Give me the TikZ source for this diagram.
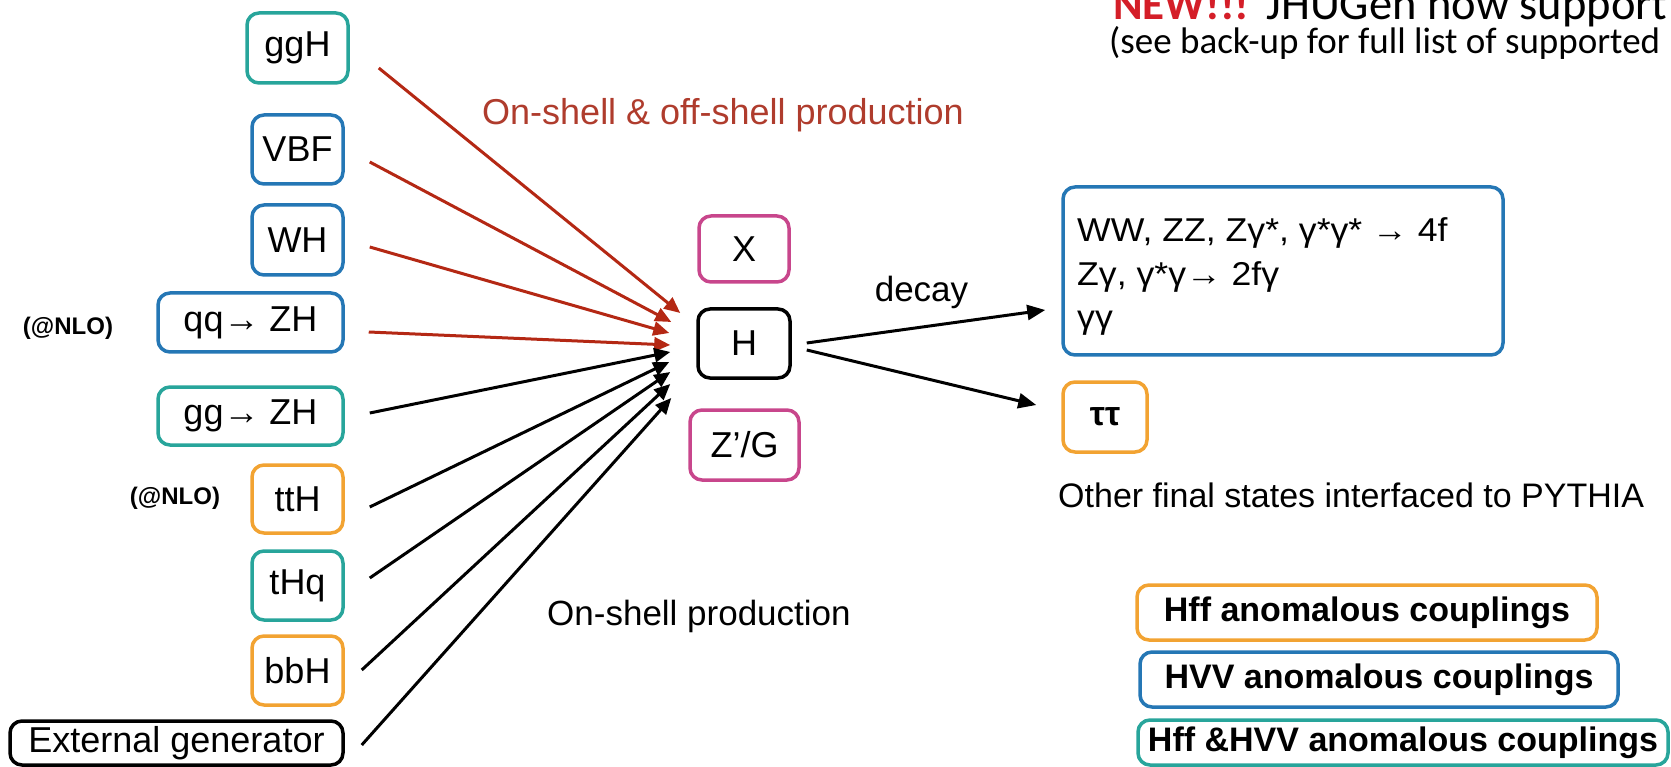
\documentclass[tikz,border=0pt]{standalone}
\usepackage{fontspec}
\setmainfont{Liberation Sans}
\newfontfamily\widesans[FakeStretch=1.08]{Liberation Sans}
\newfontfamily\hdrfont{Carlito}
\usetikzlibrary{arrows.meta,calc}
\definecolor{cteal}{RGB}{40,165,155}
\definecolor{cblue}{RGB}{37,119,181}
\definecolor{corange}{RGB}{242,163,50}
\definecolor{cmag}{RGB}{200,70,140}
\definecolor{cdred}{RGB}{180,40,20}
\definecolor{ctxtred}{RGB}{175,60,45}
\definecolor{cnew}{RGB}{212,30,40}

\begin{document}
\begin{tikzpicture}[x=1pt,y=-1pt,
  bx/.style={draw, line width=3.5pt, rounded corners=12pt, inner sep=0pt,
    font=\fontsize{36}{40}\selectfont},
  tealbox/.style={bx, draw=cteal},
  bluebox/.style={bx, draw=cblue},
  orangebox/.style={bx, draw=corange},
  magbox/.style={bx, draw=cmag},
  blackbox/.style={bx, draw=black},
  lbl/.style={inner sep=0pt, font=\fontsize{36}{40}\selectfont},
  nlo/.style={inner sep=0pt, font=\bfseries\fontsize{24}{28}\selectfont},
  legendbox/.style={bx, font=\bfseries\fontsize{34}{38}\selectfont},
  prod/.style={line width=3pt, -{Triangle[length=16pt,width=14pt]}},
  onoff/.style={prod, draw=cdred},
  onshell/.style={prod, draw=black},
  decayarr/.style={line width=3pt, -{Triangle[length=18pt,width=15pt]}}
]
\useasboundingbox (0,0) rectangle (1671,767);

% production channels
\node[tealbox, minimum width=101pt, minimum height=70pt] (ggH) at (297.5,48) {ggH};
\node[bluebox, minimum width=91pt, minimum height=69pt] (VBF) at (297.5,149.5) {VBF};
\node[bluebox, minimum width=91pt, minimum height=70pt] (WH) at (297.5,240) {WH};
\node[bluebox, minimum width=185pt, minimum height=59pt] (qqZH) at (250.5,322.5) {qq→ ZH};
\node[tealbox, minimum width=185pt, minimum height=58pt] (ggZH) at (250.5,416) {gg→ ZH};
\node[orangebox, minimum width=91pt, minimum height=68pt] (ttH) at (297.5,499) {ttH};
\node[tealbox, minimum width=91pt, minimum height=69pt] (tHq) at (297.5,585.5) {tHq};
\node[orangebox, minimum width=91pt, minimum height=69pt] (bbH) at (297.5,670.5) {bbH};
\node[blackbox, minimum width=333pt, minimum height=44pt] (ext) at (176.5,743) {External generator};

\node[nlo] (nloA) at (68,328) {(@NLO)};
\node[nlo] (nloB) at (175,498) {(@NLO)};

% resonances
\node[magbox, minimum width=90pt, minimum height=66pt] (X) at (744,249) {X};
\node[blackbox, minimum width=92pt, minimum height=69pt] (H) at (744,343.5) {H};
\node[magbox, minimum width=109pt, minimum height=70pt] (ZG) at (744.5,445) {Z’/G};

% production arrows
\draw[onoff] ($(ggH.east)+(29,20)$) -- ($(H.west)+(-16,-30.5)$);
\draw[onoff] ($(VBF.east)+(25,12.5)$) -- ($(H.west)+(-25,-21.5)$);
\draw[onoff] ($(WH.east)+(25,7)$) -- ($(H.west)+(-27,-10.5)$);
\draw[onoff] ($(qqZH.east)+(24,9.5)$) -- ($(H.west)+(-26,1.5)$);
\draw[onshell] ($(ggZH.east)+(25,-3)$) -- ($(H.west)+(-26,8.5)$);
\draw[onshell] ($(ttH.east)+(25,8)$) -- ($(H.west)+(-27,18.5)$);
\draw[onshell] ($(tHq.east)+(25,-7.5)$) -- ($(H.west)+(-26,28.5)$);
\draw[onshell] ($(bbH.east)+(17,-0.5)$) -- ($(H.west)+(-26,40.5)$);
\draw[onshell] ($(ext.east)+(17,2)$) -- ($(H.west)+(-25,54.5)$);

\node[lbl, text=ctxtred] (offlbl) at (723,115) {On-shell \& off-shell production};
\node[lbl, anchor=west, font=\fontsize{35}{40}\selectfont] (onlbl) at (547,616) {On-shell production};

% decay products
\node[bluebox, minimum width=440pt, minimum height=168pt] (WW) at (1283,271) {};
\node[inner sep=0pt, anchor=west, align=left, font=\widesans\fontsize{33}{43.5}\selectfont] (WWtxt) at (1077,276.5)
  {WW, ZZ, Zγ*, γ*γ* → 4f\\Zγ, γ*γ→ 2fγ\\γγ};
\node[orangebox, minimum width=84pt, minimum height=70pt, font=\bfseries\fontsize{34}{38}\selectfont] (tt) at (1105,417) {ττ};

\draw[decayarr] ($(H.east)+(15,-0.5)$) -- ($(WW.west)+(-16,39)$);
\draw[decayarr] ($(H.east)+(15,6.5)$) -- ($(tt.west)+(-25,-12)$);
\node[lbl, font=\fontsize{35}{40}\selectfont] (decaylbl) at (921.5,292) {decay};

\node[inner sep=0pt, anchor=west, font=\fontsize{34}{40}\selectfont] (other) at (1058,495) {Other final states interfaced to PYTHIA};

% coupling legend
\node[legendbox, draw=corange, minimum width=460pt, minimum height=55pt] (legHff) at (1367,612.5) {Hff anomalous couplings};
\node[legendbox, draw=cblue, minimum width=478pt, minimum height=55pt] (legHVV) at (1379,679.5) {HVV anomalous couplings};
\node[legendbox, draw=cteal, minimum width=530pt, minimum height=45pt] (legBoth) at (1403,742.5) {Hff \&HVV anomalous couplings};

% header
\node[anchor=base west, inner sep=0pt, text=cnew, font=\hdrfont\bfseries\fontsize{45}{48}\selectfont] (newtag) at (1113,20) {NEW!!!};
\node[anchor=base west, inner sep=0pt, font=\hdrfont\fontsize{46.5}{48}\selectfont] (jhu) at (1266,20) {JHUGen now support};
\node[anchor=base west, inner sep=0pt, font=\hdrfont\fontsize{37}{40}\selectfont] (seebk) at (1109,54) {(see back-up for full list of supported};
\end{tikzpicture}
\end{document}
